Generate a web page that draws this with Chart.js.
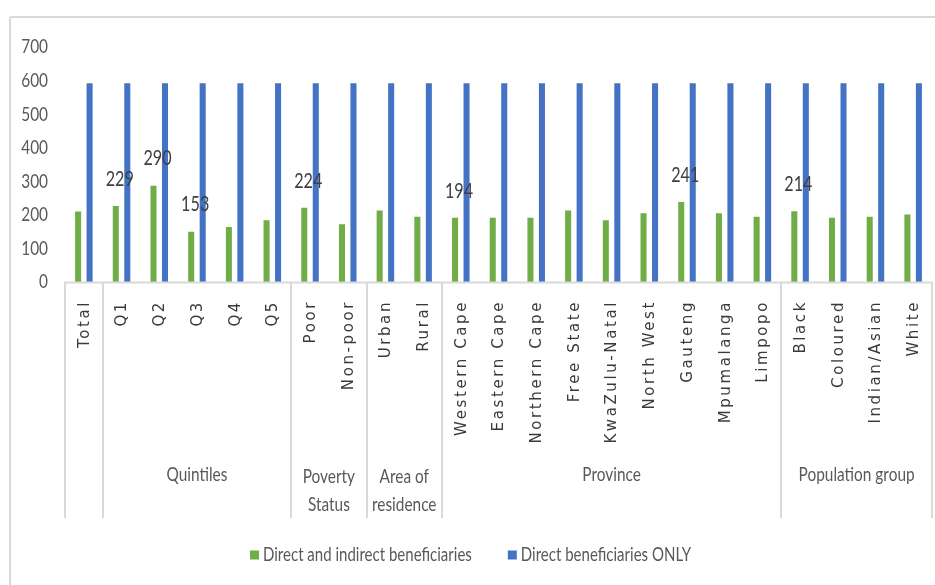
<!DOCTYPE html>
<html>
<head>
<meta charset="utf-8">
<script src="https://cdn.jsdelivr.net/npm/chart.js@4/dist/chart.umd.min.js"></script>
<style>
  html, body { margin: 0; padding: 0; background: #fff; }
  #wrap { width: 935px; height: 585px; position: relative; }
</style>
</head>
<body>
<div id="wrap"><canvas id="c" width="935" height="585"></canvas></div>
<script>
// Sub-group categories along the x axis
const categories = ['Total', 'Q1', 'Q2', 'Q3', 'Q4', 'Q5', 'Poor', 'Non-poor', 'Urban', 'Rural',
  'Western Cape', 'Eastern Cape', 'Northern Cape', 'Free State', 'KwaZulu-Natal', 'North West',
  'Gauteng', 'Mpumalanga', 'Limpopo', 'Black', 'Coloured', 'Indian/Asian', 'White'];

// Outer grouping of the categories
const groupNames = ['', 'Quintiles', 'Poverty\nStatus', 'Area of\nresidence', 'Province', 'Population group'];
const groupSizes = [1, 5, 2, 2, 9, 4];

// Series values
const directIndirect = [213, 229, 290, 153, 167, 187, 224, 175, 216, 197,
  194, 194, 194, 216, 187, 208, 241, 208, 197, 214, 194, 197, 204];
const directOnly = [595, 595, 595, 595, 595, 595, 595, 595, 595, 595,
  595, 595, 595, 595, 595, 595, 595, 595, 595, 595, 595, 595, 595];

// Categories whose first series value is printed above the bars
const labelledCategories = ['Q1', 'Q2', 'Q3', 'Poor', 'Western Cape', 'Gauteng', 'Black'];

const seriesNames = ['Direct and indirect beneficiaries', 'Direct beneficiaries ONLY'];
const yTicks = [0, 100, 200, 300, 400, 500, 600, 700];

const GREEN = '#70AD47';
const BLUE = '#4472C4';
const LINE = '#d9d9d9';
const TEXT = '#595959';
const FONT = "Lato, 'Open Sans', sans-serif";
const SQUEEZE = 0.77;   // horizontal condensing of the upright text

// Draw upright text condensed horizontally around its anchor
function condensedText(ctx, text, x, y, align) {
  ctx.save();
  ctx.translate(x, y);
  ctx.scale(SQUEEZE, 1);
  ctx.textAlign = align;
  ctx.fillText(text, 0, 0);
  ctx.restore();
}

const decorPlugin = {
  id: 'decor',
  afterDraw(chart) {
    const ctx = chart.ctx;
    const x = chart.scales.x;
    const y = chart.scales.y;
    const area = chart.chartArea;
    const catW = x.getPixelForValue(1) - x.getPixelForValue(0);
    const axisY = area.bottom;
    const boxBottom = 518;

    ctx.save();
    // outer frame (top and left edges)
    ctx.strokeStyle = LINE;
    ctx.lineWidth = 2;
    ctx.beginPath();
    ctx.moveTo(10, 17); ctx.lineTo(935, 17);
    ctx.moveTo(10, 17); ctx.lineTo(10, 585);
    ctx.stroke();

    // value axis labels
    ctx.fillStyle = TEXT;
    ctx.font = '20px ' + FONT;
    ctx.textBaseline = 'middle';
    yTicks.forEach(v => condensedText(ctx, String(v), 48, y.getPixelForValue(v), 'right'));

    // category axis line
    ctx.beginPath();
    ctx.moveTo(x.getPixelForValue(0) - catW / 2 - 1, axisY + 0.5);
    ctx.lineTo(x.getPixelForValue(categories.length - 1) + catW / 2, axisY + 0.5);
    ctx.stroke();

    // group separators
    let idx = 0;
    const bounds = [0];
    groupSizes.forEach(n => { idx += n; bounds.push(idx); });
    ctx.beginPath();
    bounds.forEach(b => {
      const px = b < categories.length
        ? x.getPixelForValue(b) - catW / 2
        : x.getPixelForValue(categories.length - 1) + catW / 2;
      ctx.moveTo(Math.round(px), axisY);
      ctx.lineTo(Math.round(px), boxBottom);
    });
    ctx.stroke();

    // rotated category labels
    ctx.fillStyle = '#3a3a3a';
    ctx.font = "15px 'DejaVu Sans'";
    ctx.letterSpacing = '2.6px';
    ctx.textAlign = 'right';
    ctx.textBaseline = 'middle';
    categories.forEach((c, i) => {
      ctx.save();
      ctx.translate(x.getPixelForValue(i) + 1, axisY + 18);
      ctx.rotate(-Math.PI / 2);
      ctx.fillText(c, 0, 0);
      ctx.restore();
    });
    ctx.letterSpacing = '0px';

    // group labels
    ctx.fillStyle = TEXT;
    ctx.font = '20px ' + FONT;
    ctx.textBaseline = 'middle';
    for (let g = 0; g < groupNames.length; g++) {
      const start = bounds[g], end = bounds[g + 1];
      const cx = (x.getPixelForValue(start) + x.getPixelForValue(end - 1)) / 2;
      const lines = groupNames[g].split('\n');
      if (lines.length === 1) {
        condensedText(ctx, lines[0], cx, 475, 'center');
      } else {
        lines.forEach((ln, k) => condensedText(ctx, ln, cx, 477 + k * 28, 'center'));
      }
    }

    // value labels above the first series
    const meta = chart.getDatasetMeta(0);
    ctx.fillStyle = '#404040';
    ctx.font = '21px ' + FONT;
    ctx.textBaseline = 'middle';
    labelledCategories.forEach(name => {
      const i = categories.indexOf(name);
      const el = meta.data[i];
      condensedText(ctx, String(directIndirect[i]), el.x + 4, el.y - 26, 'center');
    });

    // legend
    ctx.font = '19.5px ' + FONT;
    ctx.textBaseline = 'middle';
    const colors = [GREEN, BLUE];
    const legendY = 555;
    const gap = 36;
    const sq = 9;
    const widths = seriesNames.map(s => ctx.measureText(s).width * SQUEEZE);
    let lx = 250;
    seriesNames.forEach((s, k) => {
      ctx.fillStyle = colors[k];
      ctx.fillRect(lx, legendY - sq / 2, sq, sq);
      ctx.fillStyle = TEXT;
      condensedText(ctx, s, lx + sq + 4, legendY, 'left');
      lx += sq + 4 + widths[k] + gap;
    });
    ctx.restore();
  }
};

new Chart(document.getElementById('c'), {
  type: 'bar',
  data: {
    labels: categories,
    datasets: [
      { label: seriesNames[0], data: directIndirect, backgroundColor: GREEN,
        borderColor: 'rgba(255,255,255,0.45)', borderWidth: 1 },
      { label: seriesNames[1], data: directOnly, backgroundColor: BLUE,
        borderColor: 'rgba(255,255,255,0.45)', borderWidth: 1 }
    ]
  },
  options: {
    responsive: false,
    animation: false,
    devicePixelRatio: 1,
    layout: { padding: { left: 0, top: 47, right: 3, bottom: 303 } },
    datasets: { bar: { categoryPercentage: 0.61, barPercentage: 0.7 } },
    plugins: { legend: { display: false }, tooltip: { enabled: false } },
    scales: {
      x: {
        ticks: { display: false },
        grid: { display: false },
        border: { display: false },
        afterFit(s) { s.height = 0; }
      },
      y: {
        min: 0, max: 700,
        afterBuildTicks(s) { s.ticks = yTicks.map(v => ({ value: v })); },
        afterFit(s) { s.width = 65; },
        grid: { display: false },
        border: { display: false },
        ticks: { display: false }
      }
    }
  },
  plugins: [decorPlugin]
});
</script>
</body>
</html>
